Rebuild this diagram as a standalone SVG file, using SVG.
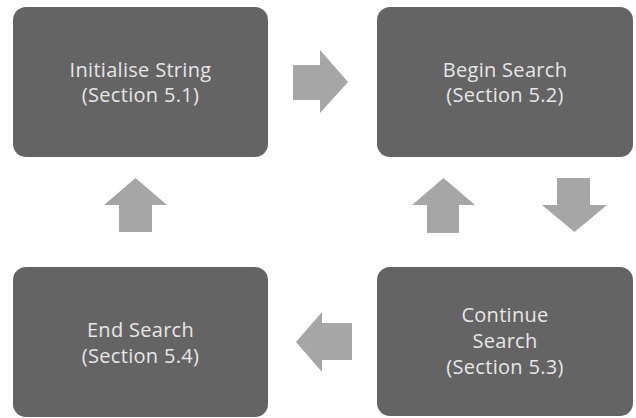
<svg xmlns="http://www.w3.org/2000/svg" width="636" height="418" viewBox="0 0 636 418">
<style>
.box{fill:#646464;}
.lbl{font-family:"Open Sans","Liberation Sans",sans-serif;font-size:20px;letter-spacing:0.3px;fill:#e6e6e6;text-anchor:middle;}
.arr{fill:#a6a6a6;}
</style>
<rect width="636" height="418" fill="#ffffff"/>
<g id="node-init">
<rect class="box" x="13" y="7" width="255" height="150" rx="13"/>
<text class="lbl" x="140.5" y="77">Initialise String</text>
<text class="lbl" x="140.5" y="102">(Section 5.1)</text>
</g>
<g id="node-begin">
<rect class="box" x="377" y="7" width="256" height="150" rx="13"/>
<text class="lbl" x="505" y="77">Begin Search</text>
<text class="lbl" x="505" y="102">(Section 5.2)</text>
</g>
<g id="node-continue">
<rect class="box" x="377" y="267" width="256" height="149" rx="13"/>
<text class="lbl" x="505" y="322">Continue</text>
<text class="lbl" x="505" y="348">Search</text>
<text class="lbl" x="505" y="374">(Section 5.3)</text>
</g>
<g id="node-end">
<rect class="box" x="13" y="267" width="255" height="150" rx="13"/>
<text class="lbl" x="140.5" y="337">End Search</text>
<text class="lbl" x="140.5" y="363">(Section 5.4)</text>
</g>
<g id="connectors">
<polygon class="arr" points="293,65 320,65 320,50 348,82 320,113 320,100 293,100"/>
<polygon class="arr" points="557,178 590,178 590,205 607,205 574.5,232 542,205 557,205"/>
<polygon class="arr" points="352,323 322,323 322,312 296,342 322,372 322,360 352,360"/>
<polygon class="arr" points="119,232 152,232 152,205 167,205 135.5,178 104,205 119,205"/>
<polygon class="arr" points="427,233 459,233 459,205 475,205 443.5,178 412,205 427,205"/>
</g>
</svg>
